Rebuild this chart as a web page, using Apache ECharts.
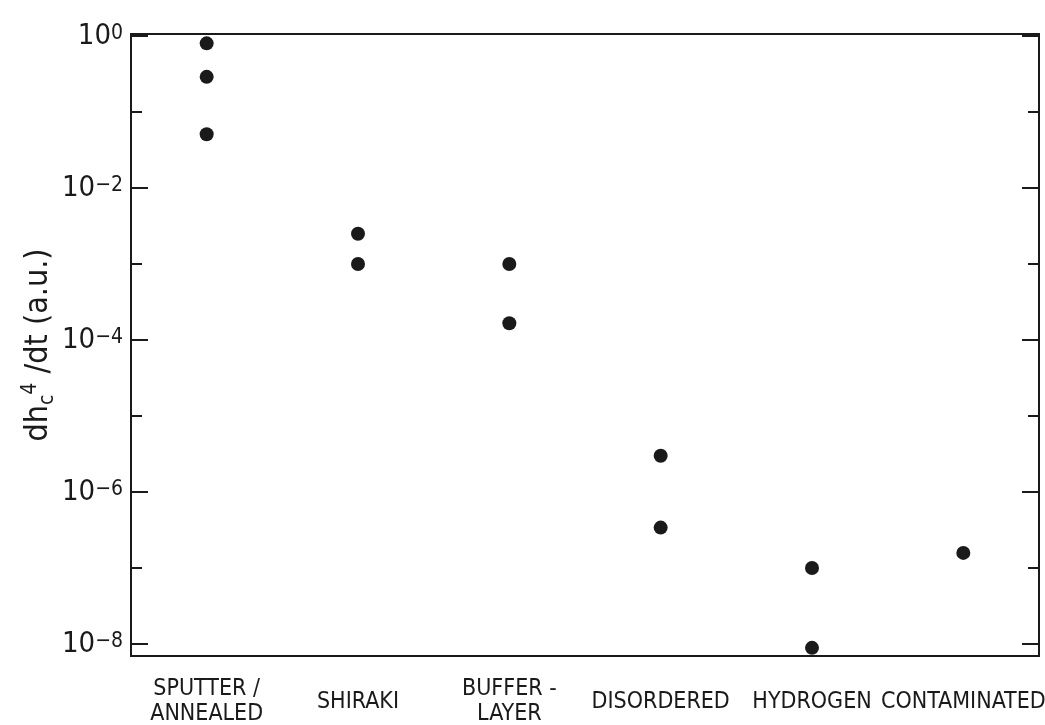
<!DOCTYPE html>
<html><head><meta charset="utf-8">
<script src="https://cdn.jsdelivr.net/npm/echarts@6/dist/echarts.min.js"></script>
<style>html,body{margin:0;padding:0;background:#fff}#c{width:1045px;height:725px}</style>
</head><body><div id="c"></div>
<script>
// ---- data ----
const categories = ['SPUTTER /\nANNEALED', 'SHIRAKI', 'BUFFER -\nLAYER', 'DISORDERED', 'HYDROGEN', 'CONTAMINATED'];
const sputterAnnealed = [0.80, 0.29, 0.051];
const shiraki = [2.5e-3, 1.0e-3];
const bufferLayer = [1.0e-3, 1.66e-4];
const disordered = [3.0e-6, 3.4e-7];
const hydrogen = [1.0e-7, 8.9e-9];
const contaminated = [1.58e-7];
const labeledDecades = [1e-8, 1e-6, 1e-4, 1e-2, 1];
const unlabeledDecades = [1e-7, 1e-5, 1e-3, 1e-1];
const yMin = 6.95e-9;
const yMax = 1.062;

const groups = [sputterAnnealed, shiraki, bufferLayer, disordered, hydrogen, contaminated];
const points = [];
groups.forEach((vals, i) => vals.forEach(v => points.push([categories[i], v])));

const FONT = "'DejaVu Sans Condensed', 'Liberation Sans Narrow', 'DejaVu Sans', sans-serif";
const INK = '#1a1a1a';

function yAxisBase(position, ticks, len, withLabels) {
  const ax = {
    type: 'log', logBase: 10, min: yMin, max: yMax, position: position,
    axisLine: { show: false },
    splitLine: { show: false },
    axisTick: { show: true, inside: true, length: len, customValues: ticks,
      lineStyle: { color: INK, width: 2 } },
    axisLabel: { show: false }
  };
  if (withLabels) {
    ax.axisLabel = {
      show: true, customValues: ticks, margin: 8,
      formatter: v => '{b|10}{e|' + String(Math.round(Math.log10(v))).replace('-', '\u2212') + '}',
      rich: {
        b: { fontFamily: FONT, fontSize: 29, color: INK, lineHeight: 32 },
        e: { fontFamily: FONT, fontSize: 21, color: INK, verticalAlign: 'top', lineHeight: 26, padding: [3, 0, 0, 0] }
      }
    };
    ax.name = '{m|dh}{sub|c}{sup|4}{m| /dt (a.u.)}';
    ax.nameLocation = 'middle';
    ax.nameRotate = 90;
    ax.nameGap = 73;
    ax.nameMoveOverlap = false;
    ax.nameTextStyle = {
      rich: {
        m: { fontFamily: FONT, fontSize: 32, color: INK, lineHeight: 38 },
        sub: { fontFamily: FONT, fontSize: 21, color: INK, verticalAlign: 'bottom', lineHeight: 21 },
        sup: { fontFamily: FONT, fontSize: 21, color: INK, verticalAlign: 'top', lineHeight: 21 }
      }
    };
  }
  return ax;
}

const chart = echarts.init(document.getElementById('c'), null, { renderer: 'canvas' });
chart.setOption({
  backgroundColor: '#ffffff',
  animation: false,
  grid: { left: 131, right: 6, top: 34, bottom: 69, show: true, outerBoundsMode: 'none',
    containLabel: false,
    borderColor: INK, borderWidth: 2, backgroundColor: 'transparent' },
  xAxis: {
    type: 'category', data: categories, boundaryGap: true, position: 'bottom',
    axisLine: { show: false }, axisTick: { show: false }, splitLine: { show: false },
    axisLabel: {
      margin: 21, interval: 0,
      formatter: v => v.indexOf('\n') >= 0
        ? v.split('\n').map(l => '{d|' + l + '}').join('\n')
        : '{s|' + v + '}',
      rich: {
        d: { fontFamily: FONT, fontSize: 23, color: INK, lineHeight: 25 },
        s: { fontFamily: FONT, fontSize: 23, color: INK, lineHeight: 50 }
      }
    }
  },
  yAxis: [
    yAxisBase('left', labeledDecades, 17, true),
    yAxisBase('left', unlabeledDecades, 11, false),
    yAxisBase('right', labeledDecades, 17, false),
    yAxisBase('right', unlabeledDecades, 11, false)
  ],
  series: [{
    type: 'scatter', xAxisIndex: 0, yAxisIndex: 0, data: points,
    symbol: 'circle', symbolSize: 14, clip: false,
    itemStyle: { color: INK, opacity: 1 }
  }]
});
</script>
</body></html>
